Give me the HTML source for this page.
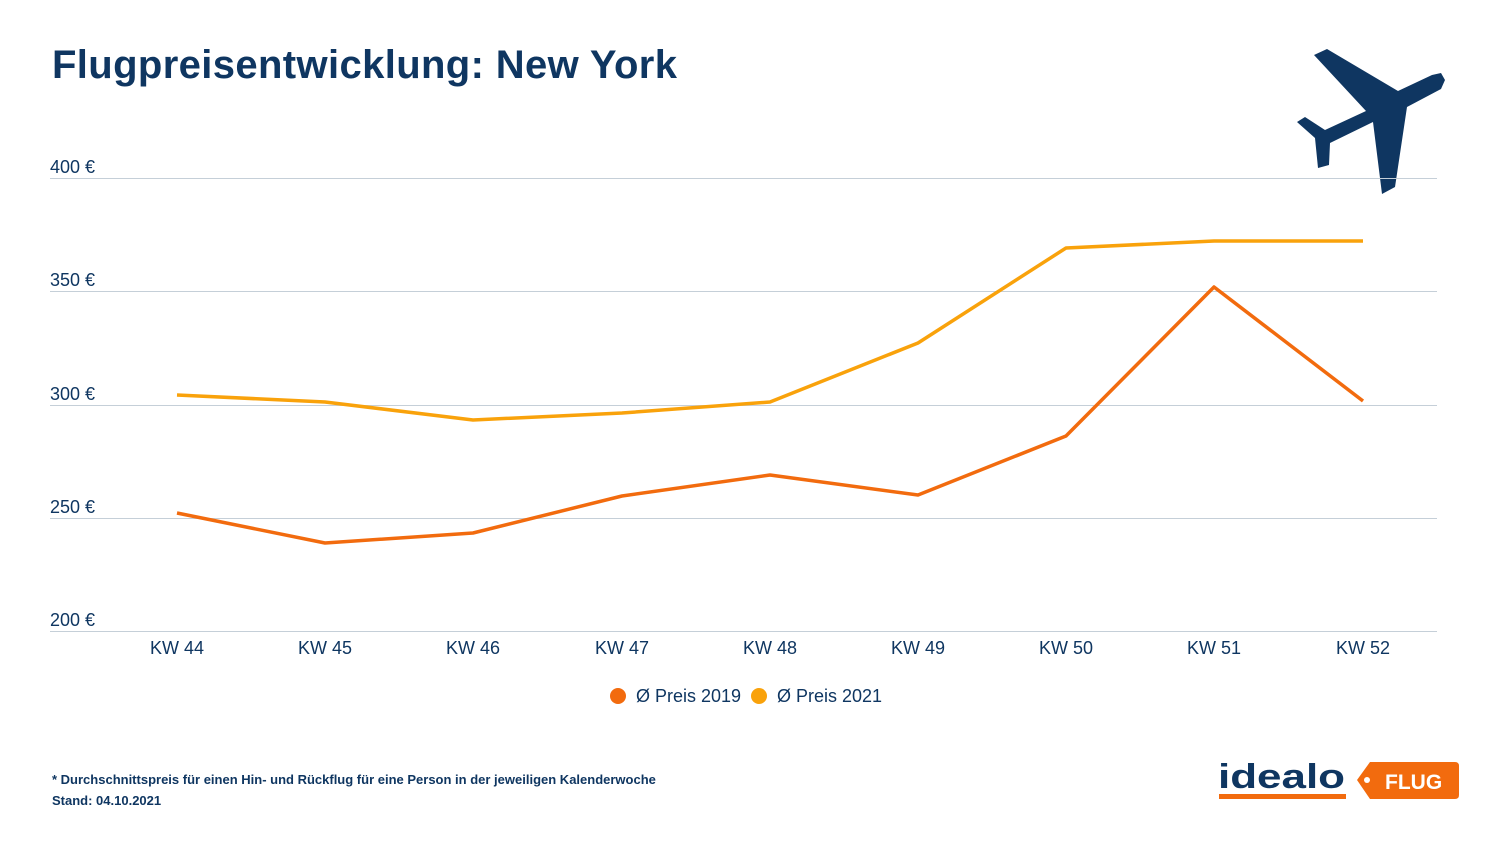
<!DOCTYPE html>
<html><head><meta charset="utf-8"><style>
body{margin:0;width:1500px;height:844px;background:#fff;overflow:hidden;font-family:"Liberation Sans",sans-serif}
</style></head><body>
<svg width="1500" height="844" xmlns="http://www.w3.org/2000/svg" font-family="Liberation Sans, sans-serif">
<text x="52" y="78" font-size="40" font-weight="bold" fill="#0f3661" textLength="625">Flugpreisentwicklung: New York</text>
<polygon fill="#0f3661" points="1314,55 1327,49 1398,91 1432,75 1441,73 1445,80 1441,89 1407,107 1395,187 1382,194 1373,122 1330,143 1329,165 1318,168 1315,138 1297,122 1305,117 1325,130 1366,111"/>
<g stroke="#c5cfd8" stroke-width="1">
<line x1="50" y1="178.5" x2="1437" y2="178.5"/>
<line x1="50" y1="291.5" x2="1437" y2="291.5"/>
<line x1="50" y1="405.5" x2="1437" y2="405.5"/>
<line x1="50" y1="518.5" x2="1437" y2="518.5"/>
<line x1="50" y1="631.5" x2="1437" y2="631.5"/>
</g>
<g font-size="18" fill="#0f3661">
<text x="50" y="173">400 €</text>
<text x="50" y="286">350 €</text>
<text x="50" y="400">300 €</text>
<text x="50" y="513">250 €</text>
<text x="50" y="626">200 €</text>
</g>
<g font-size="18" fill="#0f3661" text-anchor="middle">
<text x="177" y="654">KW 44</text><text x="325" y="654">KW 45</text><text x="473" y="654">KW 46</text>
<text x="622" y="654">KW 47</text><text x="770" y="654">KW 48</text><text x="918" y="654">KW 49</text>
<text x="1066" y="654">KW 50</text><text x="1214" y="654">KW 51</text><text x="1363" y="654">KW 52</text>
</g>
<polyline fill="none" stroke="#f9a20b" stroke-width="3.5" stroke-linejoin="round" points="177,395 325,402 473,420 622,413 770,402 918,343 1066,248 1214,241 1363,241"/>
<polyline fill="none" stroke="#f26b0e" stroke-width="3.5" stroke-linejoin="round" points="177,513 325,543 473,533 622,496 770,475 918,495 1066,436 1214,287 1363,401"/>
<circle cx="618" cy="696" r="8" fill="#f26b0e"/>
<text x="636" y="702" font-size="18" fill="#0f3661">Ø Preis 2019</text>
<circle cx="759" cy="696" r="8" fill="#f9a20b"/>
<text x="777" y="702" font-size="18" fill="#0f3661">Ø Preis 2021</text>
<text x="52" y="784" font-size="13" font-weight="bold" fill="#0f3661">* Durchschnittspreis für einen Hin- und Rückflug für eine Person in der jeweiligen Kalenderwoche</text>
<text x="52" y="805" font-size="13" font-weight="bold" fill="#0f3661">Stand: 04.10.2021</text>
<text x="1218" y="788" font-size="34" font-weight="bold" fill="#0f3661" textLength="127" lengthAdjust="spacingAndGlyphs">idealo</text>
<rect x="1219" y="794" width="127" height="5" fill="#f26b0e"/>
<path d="M1357,780 L1370,762 L1455,762 Q1459,762 1459,766 L1459,795 Q1459,799 1455,799 L1370,799 Z" fill="#f26b0e"/>
<circle cx="1367" cy="780" r="3" fill="#fff"/>
<text x="1385" y="789" font-size="21" font-weight="bold" fill="#fff">FLUG</text>
</svg>
</body></html>
